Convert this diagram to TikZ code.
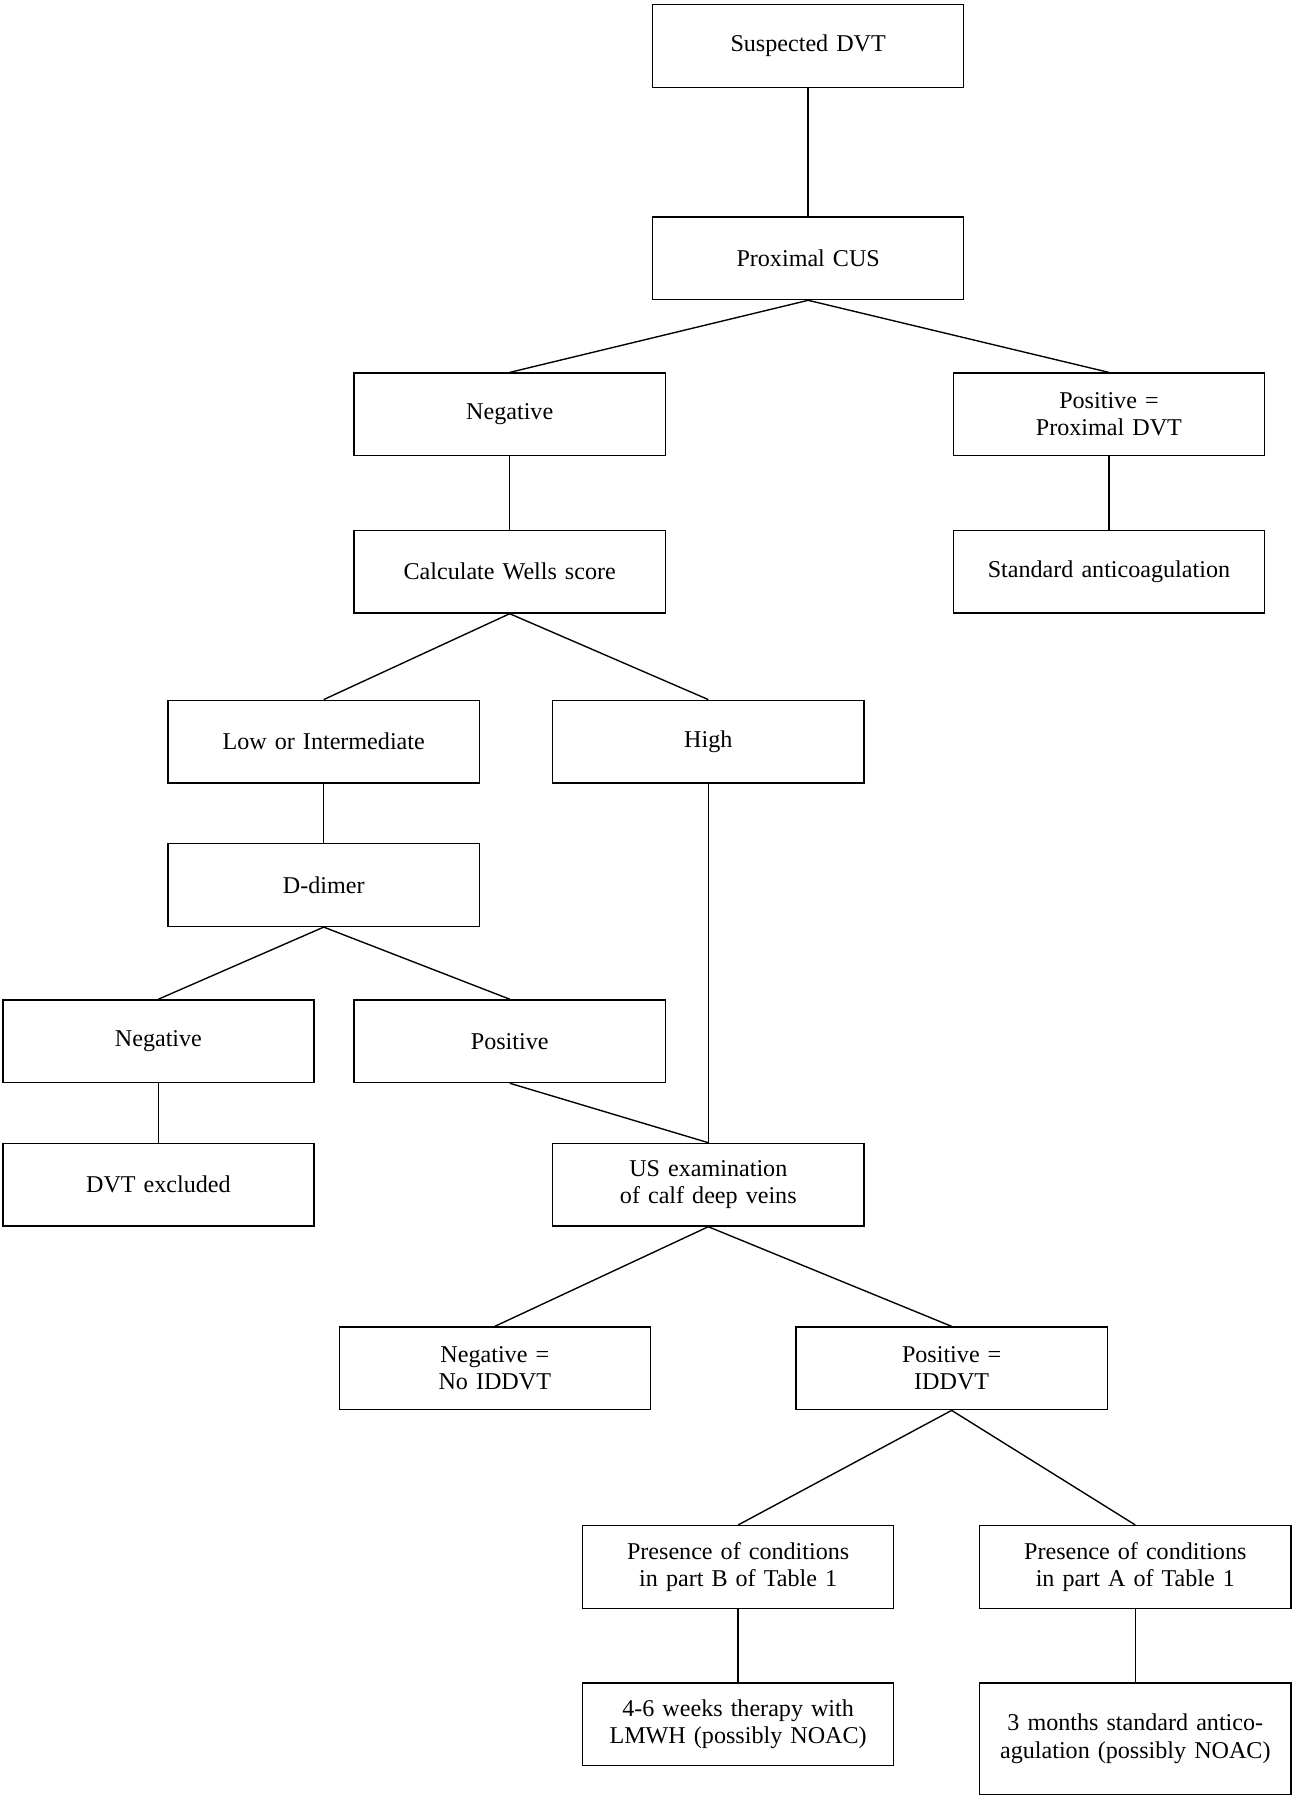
\documentclass[tikz,border=0pt]{standalone}
\usepackage{fontspec}
\setmainfont{Liberation Serif}
\usetikzlibrary{positioning}

\begin{document}
\begin{tikzpicture}[
    x=0.5pt, y=-0.5pt,
    box/.style={rectangle, draw, line width=0.6pt, minimum width=135.5pt, minimum height=36pt, text width=122pt, align=center, font=\fontsize{10.5}{12}\selectfont},
    link/.style={line width=0.6pt}
]
\useasboundingbox (0,0) rectangle (1129,1568);

% Top
\node[box] (suspected) at (704,40) {Suspected DVT};
\node[box] (cus) at (704,225) {Proximal CUS};

% Proximal CUS result
\node[box] (neg) at (444,361) {Negative};
\node[box] (pos) at (966,361) {Positive =\\Proximal DVT};
\node[box] (wells) at (444,498) {Calculate Wells score};
\node[box] (stdanti) at (966,498) {Standard anticoagulation};

% Wells score
\node[box] (lowint) at (282,646) {Low or Intermediate};
\node[box] (high) at (617,646) {High};
\node[box] (ddimer) at (282,771) {D-dimer};

% D-dimer result
\node[box] (dneg) at (138,907) {Negative};
\node[box] (dpos) at (444,907) {Positive};
\node[box] (excluded) at (138,1032) {DVT excluded};
\node[box] (usexam) at (617,1032) {US examination of calf deep veins};

% Calf US result
\node[box] (noiddvt) at (431,1192) {Negative =\\No IDDVT};
\node[box] (iddvt) at (829,1192) {Positive =\\IDDVT};

% Table 1 conditions
\node[box] (partb) at (643,1365) {Presence of conditions in part B of Table 1};
\node[box] (parta) at (989,1365) {Presence of conditions in part A of Table 1};
\node[box] (lmwh) at (643,1502) {4-6 weeks therapy with LMWH (possibly NOAC)};
\node[box, minimum height=48.5pt] (months) at (989,1514.5) {3 months standard anticoagulation (possibly NOAC)};

% Connectors
\draw[link] (suspected.south) -- (cus.north);
\draw[link] (cus.south) -- (neg.north);
\draw[link] (cus.south) -- (pos.north);
\draw[link] (neg.south) -- (wells.north);
\draw[link] (pos.south) -- (stdanti.north);
\draw[link] (wells.south) -- (lowint.north);
\draw[link] (wells.south) -- (high.north);
\draw[link] (lowint.south) -- (ddimer.north);
\draw[link] (ddimer.south) -- (dneg.north);
\draw[link] (ddimer.south) -- (dpos.north);
\draw[link] (dneg.south) -- (excluded.north);
\draw[link] (dpos.south) -- (usexam.north);
\draw[link] (high.south) -- (usexam.north);
\draw[link] (usexam.south) -- (noiddvt.north);
\draw[link] (usexam.south) -- (iddvt.north);
\draw[link] (iddvt.south) -- (partb.north);
\draw[link] (iddvt.south) -- (parta.north);
\draw[link] (partb.south) -- (lmwh.north);
\draw[link] (parta.south) -- (months.north);

\end{tikzpicture}
\end{document}
